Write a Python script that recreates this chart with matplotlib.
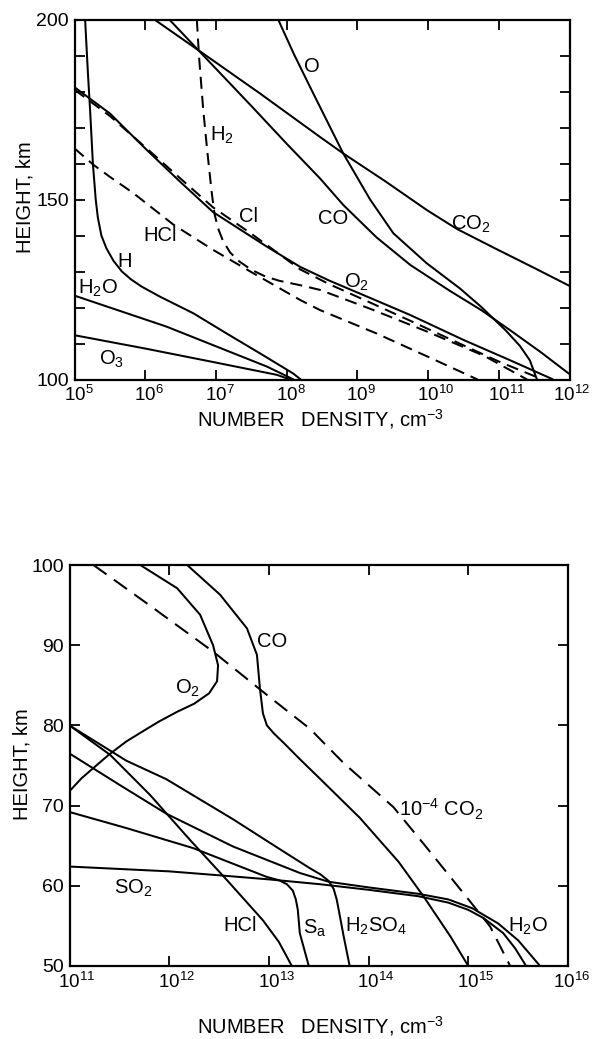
import numpy as np
import matplotlib
matplotlib.use("Agg")
import matplotlib.pyplot as plt
from matplotlib.ticker import FixedLocator, MultipleLocator, NullLocator, NullFormatter
from matplotlib.transforms import offset_copy

plt.rcParams["font.family"] = ["Liberation Sans", "DejaVu Sans"]
plt.rcParams["mathtext.fontset"] = "custom"
plt.rcParams["mathtext.rm"] = "Liberation Sans"
plt.rcParams["mathtext.it"] = "Liberation Sans:italic"
plt.rcParams["mathtext.bf"] = "Liberation Sans:bold"
plt.rcParams["mathtext.sf"] = "Liberation Sans"
plt.rcParams["mathtext.default"] = "regular"

# ---------------- upper atmosphere, 100-200 km (log10 density, height km) ----
co2_hi_logn = [6.13, 6.75, 7.62, 8.47, 8.80, 9.40, 9.98, 10.41, 10.97, 11.50, 12.0]
co2_hi_h = [200, 191.5, 179.5, 167.4, 162.8, 155.0, 147.1, 141.8, 136.2, 131.0, 126.0]

co_hi_logn = [6.34, 6.75, 7.5, 8.0, 8.47, 8.80, 9.27, 9.75, 10.31, 10.75, 11.16, 11.6, 12.0]
co_hi_h = [200, 191.5, 176.0, 165.5, 155.9, 148.5, 139.5, 131.8, 124.6, 119.3, 113.7, 107.5, 101.5]

o_hi_logn = [7.88, 8.10, 8.33, 8.80, 9.18, 9.51, 9.98, 10.45, 10.75, 11.10, 11.30, 11.44, 11.54]
o_hi_h = [200, 190.5, 181.3, 162.8, 150.0, 140.6, 132.3, 125.3, 120.2, 113.6, 109.3, 105.3, 100.0]

o2_hi_logn = [5.0, 5.5, 6.02, 6.49, 6.96, 7.72, 8.19, 8.6, 9.2, 9.75, 10.5, 11.2, 11.77]
o2_hi_h = [181.2, 173.9, 163.8, 155.0, 146.5, 136.9, 131.3, 127.5, 122.5, 117.9, 111.0, 105.0, 100.0]

cl_hi_logn = [5.0, 5.5, 6.02, 6.5, 6.96, 7.5, 8.19, 8.6, 9.2, 9.75, 10.5, 11.0, 11.62]
cl_hi_h = [180.5, 173.2, 164.2, 155.8, 147.8, 140.5, 130.6, 126.5, 121.2, 116.3, 109.5, 105.0, 100.0]

h2_hi_logn = [6.73, 6.76, 6.82, 6.88, 6.94, 6.98, 7.03, 7.10, 7.20, 7.33, 7.50, 7.70,
              7.90, 8.19, 8.47, 9.2, 10.0, 10.8, 11.4]
h2_hi_h = [200, 190, 175, 163, 152, 146, 142, 138.5, 135.3, 132.8, 130.5, 128.6,
           127.4, 126.2, 124.9, 119.5, 113.2, 106.5, 100]

hcl_hi_logn = [5.0, 5.27, 5.5, 5.83, 6.4, 6.96, 7.53, 8.19, 8.47, 9.27, 10.0, 10.7]
hcl_hi_h = [164.2, 159.6, 156.3, 151.8, 143.0, 136.0, 129.5, 122.1, 119.3, 112.8, 106.3, 100.0]

h_hi_logn = [5.15, 5.19, 5.22, 5.26, 5.30, 5.33, 5.38, 5.45, 5.55, 5.67, 5.80, 5.95,
             6.21, 6.68, 7.15, 7.62, 8.09, 8.20]
h_hi_h = [200, 185, 175, 160, 150, 145, 140, 136.5, 133, 130, 127.8, 125.8,
          123.0, 118.4, 112.8, 107.3, 101.7, 100.0]

h2o_hi_logn = [5.0, 6.3, 7.72, 8.1]
h2o_hi_h = [123.3, 114.7, 103.6, 100.0]

o3_hi_logn = [5.0, 6.0, 7.0, 7.86, 8.05]
o3_hi_h = [112.3, 108.6, 104.7, 101.3, 100.0]

# ---------------- lower atmosphere, 50-100 km ---------------------------------
co2_lo_logn = [11.24, 11.8, 12.44, 13.0, 13.41, 13.75, 14.25, 14.58, 14.95, 15.22, 15.42]
co2_lo_h = [100, 95.0, 89.2, 83.6, 79.6, 75.3, 69.8, 64.8, 59.1, 54.9, 50.0]

co_lo_logn = [12.18, 12.51, 12.78, 12.88, 12.91, 12.94, 12.98, 13.05, 13.15, 13.31,
              13.5, 13.91, 14.3, 14.55, 14.82, 15.0]
co_lo_h = [100, 96.3, 92.1, 88.8, 84.6, 81.5, 80.0, 79.0, 77.8, 75.8,
           73.5, 68.5, 63.0, 58.7, 53.7, 50.0]

o2_lo_logn = [11.71, 12.08, 12.31, 12.44, 12.49, 12.48, 12.40, 12.25, 12.08, 11.90,
              11.74, 11.57, 11.40, 11.25, 11.12, 11.0]
o2_lo_h = [100, 97.1, 93.8, 90.0, 87.5, 85.5, 84.0, 82.7, 81.7, 80.5,
           79.3, 78.0, 76.4, 74.8, 73.4, 71.8]

hcl_lo_logn = [11.0, 11.41, 11.81, 12.21, 12.58, 12.94, 13.1, 13.23]
hcl_lo_h = [80, 76.3, 71.3, 65.7, 60.7, 55.7, 53.0, 50.0]

sa_lo_logn = [11.0, 11.57, 12.24, 12.98, 13.10, 13.18, 13.24, 13.27, 13.29, 13.31, 13.40]
sa_lo_h = [69.2, 67.2, 64.7, 61.1, 60.7, 60.2, 59.4, 58.3, 57.0, 54.1, 50.0]

h2so4_lo_logn = [11.0, 11.57, 11.97, 12.64, 13.08, 13.41, 13.52, 13.60, 13.65, 13.68,
                 13.70, 13.75, 13.81]
h2so4_lo_h = [80, 75.6, 73.3, 68.3, 64.8, 62.2, 61.4, 60.6, 59.6, 58.3,
              57.0, 53.7, 50.0]

h2o_lo_logn = [11.0, 11.5, 11.97, 12.64, 13.31, 13.6, 14.0, 14.5, 14.8, 15.04, 15.3, 15.5, 15.72]
h2o_lo_h = [76.5, 72.6, 69.0, 64.9, 61.6, 60.5, 59.8, 59.0, 58.3, 57.2, 55.3, 53.2, 50.0]

so2_lo_logn = [11.0, 11.5, 12.0, 12.51, 13.0, 13.51, 14.0, 14.5, 14.8, 15.0, 15.15, 15.35, 15.47, 15.58]
so2_lo_h = [62.4, 62.1, 61.8, 61.3, 60.8, 60.2, 59.5, 58.7, 57.9, 57.0, 56.0, 54.1, 52.2, 50.0]

hi_decades = list(range(5, 13))
lo_decades = list(range(11, 17))

LW = 1.45
FS_TICK = 14
FS_DEC = 13.5
FS_LAB = 14.5
FS_AXIS = 14.5
W, H = 592, 1039

fig = plt.figure(figsize=(W / 100, H / 100), dpi=100)
ax1 = fig.add_axes([74.5 / W, 1 - 379.5 / H, 495 / W, 360 / H])
ax2 = fig.add_axes([69.5 / W, 1 - 966 / H, 498.5 / W, 401 / H])


def curve(ax, logn, h, dashed=False, dash=(6, 3.5)):
    line, = ax.plot(10.0 ** np.asarray(logn), h, color="black", lw=LW,
                    solid_capstyle="butt", dash_capstyle="butt",
                    solid_joinstyle="round")
    if dashed:
        line.set_dashes(dash)
    return line


decade_texts = []


def decade_labels(ax, decades, drop_px):
    """Power-of-ten labels with the '10' centred under each tick."""
    ax.xaxis.set_major_formatter(NullFormatter())
    base = ax.get_xaxis_transform()
    for k in decades:
        shift = 4.0 if abs(k) < 10 else 7.5
        tr = offset_copy(base, fig=fig, x=shift, y=-drop_px, units="dots")
        t = ax.text(10.0 ** k, 0, r"$10^{%d}$" % k, transform=tr,
                    ha="center", va="top", fontsize=FS_DEC)
        decade_texts.append((t, base, shift, drop_px))


# upper panel
curve(ax1, co2_hi_logn, co2_hi_h)
curve(ax1, co_hi_logn, co_hi_h)
curve(ax1, o_hi_logn, o_hi_h)
curve(ax1, o2_hi_logn, o2_hi_h)
curve(ax1, cl_hi_logn, cl_hi_h, dashed=True)
curve(ax1, h2_hi_logn, h2_hi_h, dashed=True)
curve(ax1, hcl_hi_logn, hcl_hi_h, dashed=True)
curve(ax1, h_hi_logn, h_hi_h)
curve(ax1, h2o_hi_logn, h2o_hi_h)
curve(ax1, o3_hi_logn, o3_hi_h)

ax1.set_xscale("log")
ax1.set_xlim(1e5, 1e12)
ax1.set_ylim(100, 200)
ax1.xaxis.set_major_locator(FixedLocator([10.0 ** k for k in hi_decades]))
ax1.xaxis.set_minor_locator(NullLocator())
ax1.set_yticks([100, 150, 200])
ax1.yaxis.set_minor_locator(MultipleLocator(10))
decade_labels(ax1, hi_decades, 5)

hi_labels = [("O", 8.35, 186.9), ("H$_2$", 7.08, 167.9), ("CO", 8.66, 144.8),
             ("CO$_2$", 10.60, 143.0), ("Cl", 7.46, 145.2), ("HCl", 6.21, 140.1),
             ("H", 5.71, 132.7), ("H$_2$O", 5.33, 125.3), ("O$_3$", 5.52, 105.6),
             ("O$_2$", 8.99, 127.0)]
for txt, lx, ly in hi_labels:
    ax1.text(10.0 ** lx, ly, txt, ha="center", va="center", fontsize=FS_LAB)

# lower panel
curve(ax2, co2_lo_logn, co2_lo_h, dashed=True, dash=(8, 4.5))
curve(ax2, co_lo_logn, co_lo_h)
curve(ax2, o2_lo_logn, o2_lo_h)
curve(ax2, hcl_lo_logn, hcl_lo_h)
curve(ax2, sa_lo_logn, sa_lo_h)
curve(ax2, h2so4_lo_logn, h2so4_lo_h)
curve(ax2, h2o_lo_logn, h2o_lo_h)
curve(ax2, so2_lo_logn, so2_lo_h)

ax2.set_xscale("log")
ax2.set_xlim(1e11, 1e16)
ax2.set_ylim(50, 100)
ax2.xaxis.set_major_locator(FixedLocator([10.0 ** k for k in lo_decades]))
ax2.xaxis.set_minor_locator(NullLocator())
ax2.set_yticks([50, 60, 70, 80, 90, 100])
decade_labels(ax2, lo_decades, 6)

lo_labels = [("CO", 13.03, 90.4), ("O$_2$", 12.18, 84.6),
             (r"10$^{-4}$ CO$_2$", 14.73, 69.5), ("SO$_2$", 11.64, 59.7),
             ("HCl", 12.71, 55.1), ("S$_a$", 13.46, 54.7),
             ("H$_2$SO$_4$", 14.07, 54.9), ("H$_2$O", 15.60, 54.9)]
for txt, lx, ly in lo_labels:
    ax2.text(10.0 ** lx, ly, txt, ha="center", va="center", fontsize=FS_LAB)

for ax in (ax1, ax2):
    ax.tick_params(which="both", direction="in", top=True, right=True,
                   length=7.5, width=1.3, labelsize=FS_TICK)
    ax.tick_params(axis="y", pad=4)
    for sp in ax.spines.values():
        sp.set_linewidth(1.6)

fig.text(25 / W, 1 - 197 / H, "HEIGHT, km", rotation=90,
         ha="center", va="center", fontsize=FS_AXIS)
fig.text(22 / W, 1 - 764 / H, "HEIGHT, km", rotation=90,
         ha="center", va="center", fontsize=FS_AXIS)
fig.text(320 / W, 1 - 419 / H, r"NUMBER   DENSITY, cm$^{-3}$",
         ha="center", va="center", fontsize=FS_AXIS)
fig.text(320 / W, 1 - 1026 / H, r"NUMBER   DENSITY, cm$^{-3}$",
         ha="center", va="center", fontsize=FS_AXIS)

# keep the right-most power-of-ten labels inside the figure
renderer = fig.canvas.get_renderer()
for t, base, shift, drop in decade_texts:
    bb = t.get_window_extent(renderer)
    excess = bb.x1 - (W - 2)
    if excess > 0:
        t.set_transform(offset_copy(base, fig=fig, x=shift - excess, y=-drop, units="dots"))

fig.savefig("out.png", dpi=100)
